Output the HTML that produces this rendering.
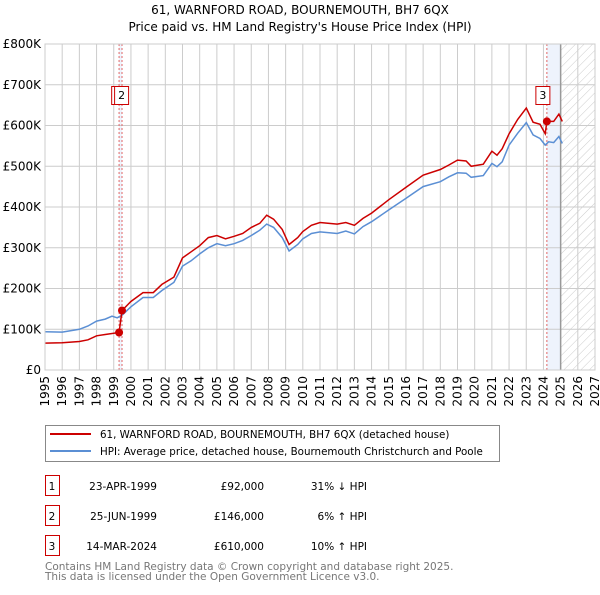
<!DOCTYPE html>
<html><head><meta charset="utf-8"><style>
body{margin:0;background:#fff;font-family:"Liberation Sans","DejaVu Sans",sans-serif;}
svg text{font-family:"DejaVu Sans","Liberation Sans",sans-serif;}
</style></head><body>
<svg id="c" width="600" height="590" viewBox="0 0 600 590" xmlns="http://www.w3.org/2000/svg">
<defs><pattern id="hatch" width="6" height="6" patternUnits="userSpaceOnUse" patternTransform="rotate(45)"><line x1="0" y1="0" x2="0" y2="6" stroke="#ccc" stroke-width="1"/></pattern></defs>
<text x="300" y="14" text-anchor="middle" font-size="12">61, WARNFORD ROAD, BOURNEMOUTH, BH7 6QX</text>
<text x="300" y="31" text-anchor="middle" font-size="12">Price paid vs. HM Land Registry's House Price Index (HPI)</text>
<g id="plot"></g>
<g>
<rect x="45.5" y="425.5" width="454" height="36" fill="#fff" stroke="#888"/>
<line x1="50" y1="434" x2="91" y2="434" stroke="#cc0000" stroke-width="2"/>
<text x="100" y="438" font-size="10.3">61, WARNFORD ROAD, BOURNEMOUTH, BH7 6QX (detached house)</text>
<line x1="50" y1="451" x2="91" y2="451" stroke="#5b8fd4" stroke-width="2"/>
<text x="100" y="455" font-size="10.3">HPI: Average price, detached house, Bournemouth Christchurch and Poole</text>
</g>
<g font-size="10.5">
<rect x="45.5" y="475.5" width="14" height="20" fill="#fff" stroke="#cc0000"/><text x="52" y="490" text-anchor="middle">1</text>
<text x="157" y="490" text-anchor="end">23-APR-1999</text><text x="264" y="490" text-anchor="end">£92,000</text><text x="367" y="490" text-anchor="end">31% ↓ HPI</text>
<rect x="45.5" y="505.5" width="14" height="20" fill="#fff" stroke="#cc0000"/><text x="52" y="520" text-anchor="middle">2</text>
<text x="157" y="520" text-anchor="end">25-JUN-1999</text><text x="264" y="520" text-anchor="end">£146,000</text><text x="367" y="520" text-anchor="end">6% ↑ HPI</text>
<rect x="45.5" y="535.5" width="14" height="20" fill="#fff" stroke="#cc0000"/><text x="52" y="550" text-anchor="middle">3</text>
<text x="157" y="550" text-anchor="end">14-MAR-2024</text><text x="264" y="550" text-anchor="end">£610,000</text><text x="367" y="550" text-anchor="end">10% ↑ HPI</text>
</g>
<text x="45" y="570" font-size="10.5" fill="#777">Contains HM Land Registry data © Crown copyright and database right 2025.</text>
<text x="45" y="580" font-size="10.5" fill="#777">This data is licensed under the Open Government Licence v3.0.</text>
</svg>
<script>
const yTicks=[0,100,200,300,400,500,600,700,800];
const yTickLabels=["£0","£100K","£200K","£300K","£400K","£500K","£600K","£700K","£800K"];
const xYears=[1995,1996,1997,1998,1999,2000,2001,2002,2003,2004,2005,2006,2007,2008,2009,2010,2011,2012,2013,2014,2015,2016,2017,2018,2019,2020,2021,2022,2023,2024,2025,2026,2027];
const hpiT=[1995,1996,1997,1997.5,1998,1998.5,1998.9,1999.2,1999.5,2000,2000.7,2001.3,2001.8,2002.5,2003,2003.5,2004,2004.5,2005,2005.5,2006,2006.5,2007,2007.5,2007.9,2008.3,2008.8,2009.2,2009.7,2010,2010.5,2011,2012,2012.5,2013,2013.5,2014,2015,2016,2017,2018,2018.5,2019,2019.5,2019.8,2020.5,2021,2021.3,2021.6,2022,2022.5,2023,2023.4,2023.8,2024.1,2024.3,2024.6,2024.9,2025.1];
const hpiV=[94,93,100,108,120,125,132,128,135,155,178,178,195,215,255,268,285,300,310,305,310,318,330,343,358,350,325,292,308,322,335,339,335,341,334,352,364,393,421,450,462,474,484,483,473,477,507,499,511,552,581,607,577,568,552,560,558,573,556];
const priceT=[1995,1996,1997,1997.5,1998,1998.5,1999.31,1999.48,2000,2000.7,2001.3,2001.8,2002.5,2003,2003.5,2004,2004.5,2005,2005.5,2006,2006.5,2007,2007.5,2007.9,2008.3,2008.8,2009.2,2009.7,2010,2010.5,2011,2012,2012.5,2013,2013.5,2014,2015,2016,2017,2018,2018.5,2019,2019.5,2019.8,2020.5,2021,2021.3,2021.6,2022,2022.5,2023,2023.4,2023.8,2024.1,2024.2,2024.6,2024.9,2025.1];
const priceV=[66,67,70,74,84,87,92,146,168,190,190,210,228,275,290,305,325,330,322,328,335,350,360,380,370,345,308,325,340,355,362,358,362,355,372,385,418,448,478,492,503,515,513,500,505,537,527,543,580,615,643,608,603,580,610,610,628,610];
const saleLabels=["1","2","3"];
const saleT=[1999.31,1999.48,2024.2];
const saleV=[92,146,610];
const X0=45,X1=595,Y0=370,Y1=44;
const xs=t=>X0+(t-1995)/(2027-1995)*(X1-X0);
const ys=v=>Y0-v/800*(Y0-Y1);
const NS="http://www.w3.org/2000/svg";
const g=document.getElementById('plot');
function mk(tag,attrs,parent){const e=document.createElementNS(NS,tag);for(const k in attrs)e.setAttribute(k,attrs[k]);(parent||g).appendChild(e);return e;}
let e;
e=mk('rect',{x:xs(saleT[0]),y:Y1,width:xs(saleT[1])-xs(saleT[0]),height:Y0-Y1,fill:'#eef3fc'});


e=mk('rect',{x:xs(saleT[2]),y:Y1,width:xs(2025)-xs(saleT[2]),height:Y0-Y1,fill:'#eef3fc'});


e=mk('rect',{x:xs(2025),y:Y1,width:X1-xs(2025),height:Y0-Y1,fill:'url(#hatch)'});


yTicks.forEach((v,i)=>{
 e=mk('line',{x1:X0,x2:X1,y1:ys(v),y2:ys(v),stroke:'#ccc','stroke-width':1});
 
 
 e=mk('text',{x:X0-4,y:ys(v)+4,'text-anchor':'end','font-size':12});
 e.textContent=yTickLabels[i];
 
 
});
xYears.forEach(yr=>{
 e=mk('line',{x1:xs(yr),x2:xs(yr),y1:Y1,y2:Y0,stroke:'#ccc','stroke-width':1});
 
 
 e=mk('text',{x:0,y:0,'font-size':12,'text-anchor':'end',transform:`translate(${xs(yr)+4},${Y0+6}) rotate(-90)`});
 e.textContent=yr;
 
 
});
e=mk('line',{x1:xs(2025),x2:xs(2025),y1:Y1,y2:Y0,stroke:'#999','stroke-width':1.5});


saleT.forEach(t=>{
 e=mk('line',{x1:xs(t),x2:xs(t),y1:Y1,y2:Y0,stroke:'#e06666','stroke-width':1,'stroke-dasharray':'2,2'});
 
 
});
function path(T,V,color,name){
 const d=T.map((t,i)=>(i?'L':'M')+xs(t).toFixed(1)+','+ys(V[i]).toFixed(1)).join('');
 const p=mk('path',{d:d,fill:'none',stroke:color,'stroke-width':1.5});
 
 
}
path(hpiT,hpiV,'#5b8fd4','hpi-line');
path(priceT,priceV,'#cc0000','price-paid-line');
saleT.forEach((t,i)=>{
 e=mk('circle',{cx:xs(t),cy:ys(saleV[i]),r:4,fill:'#cc0000'});
 
 
});
const boxOff=[-7.4,-7.4,-11];
saleT.forEach((t,i)=>{
 const bx=xs(t)+boxOff[i];
 e=mk('rect',{x:bx,y:86.5,width:14,height:18,fill:'#fff',stroke:'#cc0000'});
 
 
 e=mk('text',{x:bx+7,y:99,'text-anchor':'middle','font-size':11});
 e.textContent=saleLabels[i];
 
 
});
e=mk('rect',{x:X0,y:Y1,width:X1-X0,height:Y0-Y1,fill:'none',stroke:'#ccc'});


</script>
</body></html>
